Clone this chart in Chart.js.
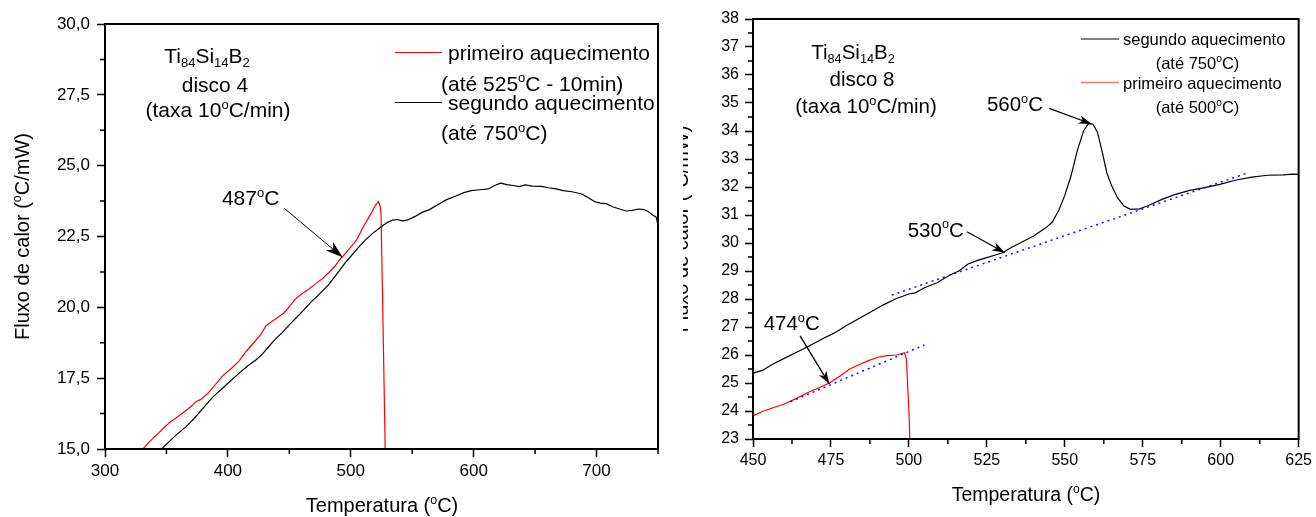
<!DOCTYPE html>
<html>
<head>
<meta charset="utf-8">
<script src="https://cdn.jsdelivr.net/npm/chart.js@4.4.0/dist/chart.umd.min.js"></script>
<style>
html, body { margin: 0; padding: 0; background: #fff; }
#wrap { position: relative; width: 1316px; height: 517px; overflow: hidden; }
#chart1 { position: absolute; left: 0; top: 0; }
#chart2 { position: absolute; left: 683px; top: 0; }
</style>
</head>
<body>
<div id="wrap">
<canvas id="chart1" width="665" height="517"></canvas>
<canvas id="chart2" width="633" height="517"></canvas>
</div>
<script>
// disco 4 - primeiro aquecimento (ate 525C - 10min)
const temp1Red = [330.8,336,342,348,353,358,364,370,374,378,384,390,396,403,409,415,421,427,431,434,439,445,450,455,460,466,471,477,482,487,491,496,501,505,509,513,517,520,522.5,524,524.6,526,528];
const flux1Red = [15.0,15.25,15.5,15.75,15.95,16.1,16.3,16.5,16.67,16.75,16.98,17.28,17.6,17.85,18.1,18.45,18.75,19.05,19.35,19.45,19.6,19.78,20.02,20.3,20.47,20.65,20.82,21.02,21.22,21.45,21.68,21.92,22.18,22.4,22.75,23.05,23.35,23.6,23.73,23.55,23.3,20.0,15.0];
// disco 4 - segundo aquecimento (ate 750C)
const temp1Black = [346,352,358,366,372,380,388,395,402,409,416,423,428,433,438,444,450,456,462,468,474,482,490,496,502,507,512,518,524,530,534,538,542,546,552,558,564,570,578,585,592,598,605,612,617,622,627,632,637,642,648,655,661,667,673,680,688,694,699,703,708,713,718,724,729,734,738,742,746,748.5,750];
const flux1Black = [15.0,15.25,15.5,15.79,16.05,16.45,16.85,17.12,17.4,17.67,17.93,18.15,18.35,18.6,18.85,19.1,19.38,19.65,19.92,20.2,20.45,20.8,21.25,21.6,21.9,22.15,22.38,22.62,22.82,23.0,23.08,23.1,23.05,23.08,23.2,23.35,23.45,23.6,23.8,23.92,24.05,24.12,24.15,24.18,24.3,24.38,24.33,24.3,24.26,24.32,24.28,24.27,24.22,24.18,24.12,24.08,24.0,23.85,23.72,23.68,23.66,23.55,23.48,23.4,23.42,23.47,23.46,23.38,23.25,23.18,22.9];

// disco 8 - segundo aquecimento (ate 750C)
const temp2Black = [450,453,456,460,464,468,472,476,480,484,488,492,496,500,502,505,509,513,516,519,522,525,528,530,533,536,540,544,546,548,550,552,554,556,557.5,559,560.5,562,563.5,565,567,569,571,574,577,581,585,590,595,600,605,610,615,620,623,625];
const flux2Black = [25.35,25.45,25.65,25.88,26.1,26.32,26.56,26.78,27.05,27.3,27.55,27.8,28.02,28.18,28.22,28.4,28.58,28.85,29.0,29.25,29.38,29.48,29.58,29.65,29.85,30.02,30.25,30.55,30.75,31.15,31.7,32.4,33.3,34.0,34.25,34.25,33.95,33.25,32.5,32.05,31.6,31.32,31.2,31.22,31.35,31.55,31.72,31.88,31.98,32.1,32.25,32.35,32.42,32.43,32.46,32.45];
// disco 8 - primeiro aquecimento (ate 500C)
const temp2Red = [450,453,456,460,464,468,471,474.5,477.7,481,484,487,490,493,496,498.6,499.2,500,500.3];
const flux2Red = [23.82,23.98,24.1,24.25,24.45,24.68,24.82,25.0,25.23,25.5,25.65,25.8,25.92,25.98,26.0,26.08,25.85,24.0,23.0];
// tangent lines (blue dotted)
const base2aTemp = [462, 505];
const base2aFlux = [24.33, 26.36];
const base2bTemp = [494.5, 608.8];
const base2bFlux = [28.14, 32.51];

// labelled ticks
const xMajor1 = [300, 400, 500, 600, 700];
const yMajor1 = [15, 17.5, 20, 22.5, 25, 27.5, 30];
const xMajor2 = [450, 475, 500, 525, 550, 575, 600, 625];
const yMajor2 = [23,24,25,26,27,28,29,30,31,32,33,34,35,36,37,38];

const FONT = '"Liberation Sans", Arial, Helvetica, sans-serif';

function pts(xs, ys) {
  return xs.map((x, i) => ({ x: x, y: ys[i] }));
}

function parseRich(str) {
  const parts = [];
  const re = /([_^])\{([^}]*)\}|([^_^]+)/g;
  let m;
  while ((m = re.exec(str))) {
    if (m[3]) parts.push([m[3], '']);
    else parts.push([m[2], m[1] === '_' ? 'sub' : 'sup']);
  }
  return parts;
}

function drawRich(ctx, str, x, y, size, align) {
  const parts = parseRich(str);
  let w = 0;
  const items = parts.map(p => {
    const s = p[1] ? size * 0.62 : size;
    ctx.font = s + 'px ' + FONT;
    const mw = ctx.measureText(p[0]).width;
    w += mw;
    return { t: p[0], k: p[1], s: s, mw: mw };
  });
  let cx = align === 'center' ? x - w / 2 : (align === 'right' ? x - w : x);
  ctx.textAlign = 'left';
  ctx.textBaseline = 'alphabetic';
  items.forEach(it => {
    ctx.font = it.s + 'px ' + FONT;
    let dy = 0;
    if (it.k === 'sub') dy = size * 0.2;
    if (it.k === 'sup') dy = -size * 0.4;
    ctx.fillText(it.t, cx, y + dy);
    cx += it.mw;
  });
}

// draws minor ticks, frame, arrows, legend, notes and axis titles
const decor = {
  id: 'decor',
  afterDraw(chart, args, o) {
    const ctx = chart.ctx, a = chart.chartArea;
    const xs = chart.scales.x, ys = chart.scales.y, ox = o.offsetX;
    ctx.save();
    ctx.strokeStyle = '#000';
    ctx.fillStyle = '#000';
    ctx.lineWidth = 1.5;
    ctx.beginPath();
    xs.ticks.forEach(t => {
      if (!o.xMajor.includes(t.value)) {
        const p = xs.getPixelForValue(t.value);
        ctx.moveTo(p, a.bottom); ctx.lineTo(p, a.bottom + o.minorLen);
      }
    });
    ys.ticks.forEach(t => {
      if (!o.yMajor.includes(t.value)) {
        const p = ys.getPixelForValue(t.value);
        ctx.moveTo(a.left, p); ctx.lineTo(a.left - o.minorLen, p);
      }
    });
    ctx.stroke();
    ctx.lineWidth = 2;
    ctx.strokeRect(a.left, a.top, a.right - a.left, a.bottom - a.top);

    o.arrows.forEach(ar => {
      const x0 = xs.getPixelForValue(ar.from[0]), y0 = ys.getPixelForValue(ar.from[1]);
      const x1 = xs.getPixelForValue(ar.to[0]), y1 = ys.getPixelForValue(ar.to[1]);
      ctx.lineWidth = ar.lw;
      ctx.beginPath(); ctx.moveTo(x0, y0); ctx.lineTo(x1, y1); ctx.stroke();
      const ang = Math.atan2(y1 - y0, x1 - x0), L = ar.head, W = ar.head * 0.33;
      const c = Math.cos(ang), s = Math.sin(ang);
      ctx.beginPath();
      ctx.moveTo(x1, y1);
      ctx.lineTo(x1 - L * c + W * s, y1 - L * s - W * c);
      ctx.lineTo(x1 - 0.72 * L * c, y1 - 0.72 * L * s);
      ctx.lineTo(x1 - L * c - W * s, y1 - L * s + W * c);
      ctx.closePath();
      ctx.fill();
      drawRich(ctx, ar.text, xs.getPixelForValue(ar.tx), ys.getPixelForValue(ar.ty), ar.size, 'center');
    });

    o.samples.forEach(sm => {
      ctx.strokeStyle = sm.color;
      ctx.lineWidth = sm.lw;
      ctx.beginPath(); ctx.moveTo(sm.x1 - ox, sm.y); ctx.lineTo(sm.x2 - ox, sm.y); ctx.stroke();
    });
    ctx.fillStyle = '#000';
    o.texts.forEach(t => drawRich(ctx, t.text, t.x - ox, t.y, t.size, t.align));

    drawRich(ctx, o.xTitle.text, o.xTitle.x - ox, o.xTitle.y, o.xTitle.size, 'center');
    ctx.save();
    ctx.translate(o.yTitle.x - ox, o.yTitle.y);
    ctx.rotate(-Math.PI / 2);
    drawRich(ctx, o.yTitle.text, 0, 0, o.yTitle.size, 'center');
    ctx.restore();
    ctx.restore();
  }
};

function scaleOpts(min, max, step, major, size, fmt, fit, pad) {
  return {
    type: 'linear', min: min, max: max,
    afterFit: fit,
    border: { display: false },
    grid: {
      drawOnChartArea: false, drawTicks: true, tickLength: 8, tickWidth: 1.5,
      tickColor: c => (c.tick && major.includes(c.tick.value)) ? '#000' : 'rgba(0,0,0,0)'
    },
    ticks: {
      stepSize: step, autoSkip: false, maxRotation: 0, padding: pad, color: '#000',
      font: { family: FONT, size: size },
      callback: v => major.includes(v) ? fmt(v) : ''
    }
  };
}

function lineSet(data, color, width, dash) {
  return {
    data: data, borderColor: color, borderWidth: width, borderDash: dash || [],
    pointRadius: 0, showLine: true, fill: false, tension: 0
  };
}

document.addEventListener('DOMContentLoaded', function () {
  new Chart(document.getElementById('chart1'), {
    type: 'scatter',
    data: {
      datasets: [
        lineSet(pts(temp1Black, flux1Black), '#000000', 1.2),
        lineSet(pts(temp1Red, flux1Red), '#ff0000', 1.2)
      ]
    },
    plugins: [decor],
    options: {
      responsive: false, animation: false,
      layout: { padding: { top: 24, right: 7, left: 0, bottom: 0 } },
      plugins: {
        legend: { display: false }, tooltip: { enabled: false },
        decor: {
          offsetX: 0, xMajor: xMajor1, yMajor: yMajor1, minorLen: 5,
          arrows: [
            { text: '487^{o}C', tx: 418.5, ty: 23.61, size: 21, from: [446, 23.49], to: [493.3, 21.77], head: 17, lw: 1 }
          ],
          samples: [
            { color: '#ff0000', x1: 395, x2: 442, y: 52.5, lw: 1.2 },
            { color: '#000000', x1: 395, x2: 442, y: 102.5, lw: 1.2 }
          ],
          texts: [
            { text: 'Ti_{84}Si_{14}B_{2}', x: 207, y: 63, size: 21, align: 'center' },
            { text: 'disco 4', x: 215, y: 92, size: 21, align: 'center' },
            { text: '(taxa 10^{o}C/min)', x: 218, y: 117, size: 21, align: 'center' },
            { text: 'primeiro aquecimento', x: 448, y: 60, size: 21, align: 'left' },
            { text: '(até 525^{o}C - 10min)', x: 441, y: 90.5, size: 21, align: 'left' },
            { text: 'segundo aquecimento', x: 448, y: 110, size: 21, align: 'left' },
            { text: '(até 750^{o}C)', x: 441, y: 140, size: 21, align: 'left' }
          ],
          xTitle: { text: 'Temperatura (^{o}C)', x: 382, y: 512, size: 20 },
          yTitle: { text: 'Fluxo de calor (^{o}C/mW)', x: 29, y: 236.5, size: 20 }
        }
      },
      scales: {
        x: scaleOpts(300, 750, 50, xMajor1, 17, v => String(v), s => { s.height = 68; }, 4),
        y: scaleOpts(15, 30, 1.25, yMajor1, 17, v => v.toFixed(1).replace('.', ','), s => { s.width = 105; }, 7)
      }
    }
  });

  new Chart(document.getElementById('chart2'), {
    type: 'scatter',
    data: {
      datasets: [
        lineSet(pts(base2aTemp, base2aFlux), '#1010ff', 1.5, [2, 4]),
        lineSet(pts(base2bTemp, base2bFlux), '#1010ff', 1.5, [2, 4]),
        lineSet(pts(temp2Black, flux2Black), '#000000', 1.2),
        lineSet(pts(temp2Red, flux2Red), '#ff0000', 1.2)
      ]
    },
    plugins: [decor],
    options: {
      responsive: false, animation: false,
      layout: { padding: { top: 19, right: 17, left: 0, bottom: 0 } },
      plugins: {
        legend: { display: false }, tooltip: { enabled: false },
        decor: {
          offsetX: 683, xMajor: xMajor2, yMajor: yMajor2, minorLen: 5,
          arrows: [
            { text: '560^{o}C', tx: 534.0, ty: 34.71, size: 20.5, from: [545.0, 34.81], to: [558.6, 34.25], head: 13, lw: 1.3 },
            { text: '530^{o}C', tx: 508.6, ty: 30.23, size: 20.5, from: [518.6, 30.4], to: [530.8, 29.65], head: 13, lw: 1.3 },
            { text: '474^{o}C', tx: 462.4, ty: 26.89, size: 20.5, from: [465.1, 26.68], to: [474.5, 24.96], head: 13, lw: 1.3 }
          ],
          samples: [
            { color: '#000000', x1: 1081, x2: 1119, y: 39, lw: 1.2 },
            { color: '#f07878', x1: 1081, x2: 1119, y: 82.5, lw: 1.5 }
          ],
          texts: [
            { text: 'Ti_{84}Si_{14}B_{2}', x: 853, y: 59, size: 20.5, align: 'center' },
            { text: 'disco 8', x: 862, y: 86, size: 20.5, align: 'center' },
            { text: '(taxa 10^{o}C/min)', x: 866, y: 113, size: 20.5, align: 'center' },
            { text: 'segundo aquecimento', x: 1123, y: 45, size: 16.5, align: 'left' },
            { text: '(até 750^{o}C)', x: 1197.5, y: 69, size: 16.5, align: 'center' },
            { text: 'primeiro aquecimento', x: 1123, y: 89, size: 16.5, align: 'left' },
            { text: '(até 500^{o}C)', x: 1197.5, y: 113, size: 16.5, align: 'center' }
          ],
          xTitle: { text: 'Temperatura (^{o}C)', x: 1026, y: 501, size: 19.5 },
          yTitle: { text: 'Fluxo de calor (^{o}C/mW)', x: 688, y: 229, size: 20 }
        }
      },
      scales: {
        x: scaleOpts(450, 625, 12.5, xMajor2, 16, v => String(v), s => { s.height = 78; }, 4),
        y: scaleOpts(23, 38, 0.5, yMajor2, 16, v => String(v), s => { s.width = 70; }, 6)
      }
    }
  });
});
</script>
</body>
</html>
